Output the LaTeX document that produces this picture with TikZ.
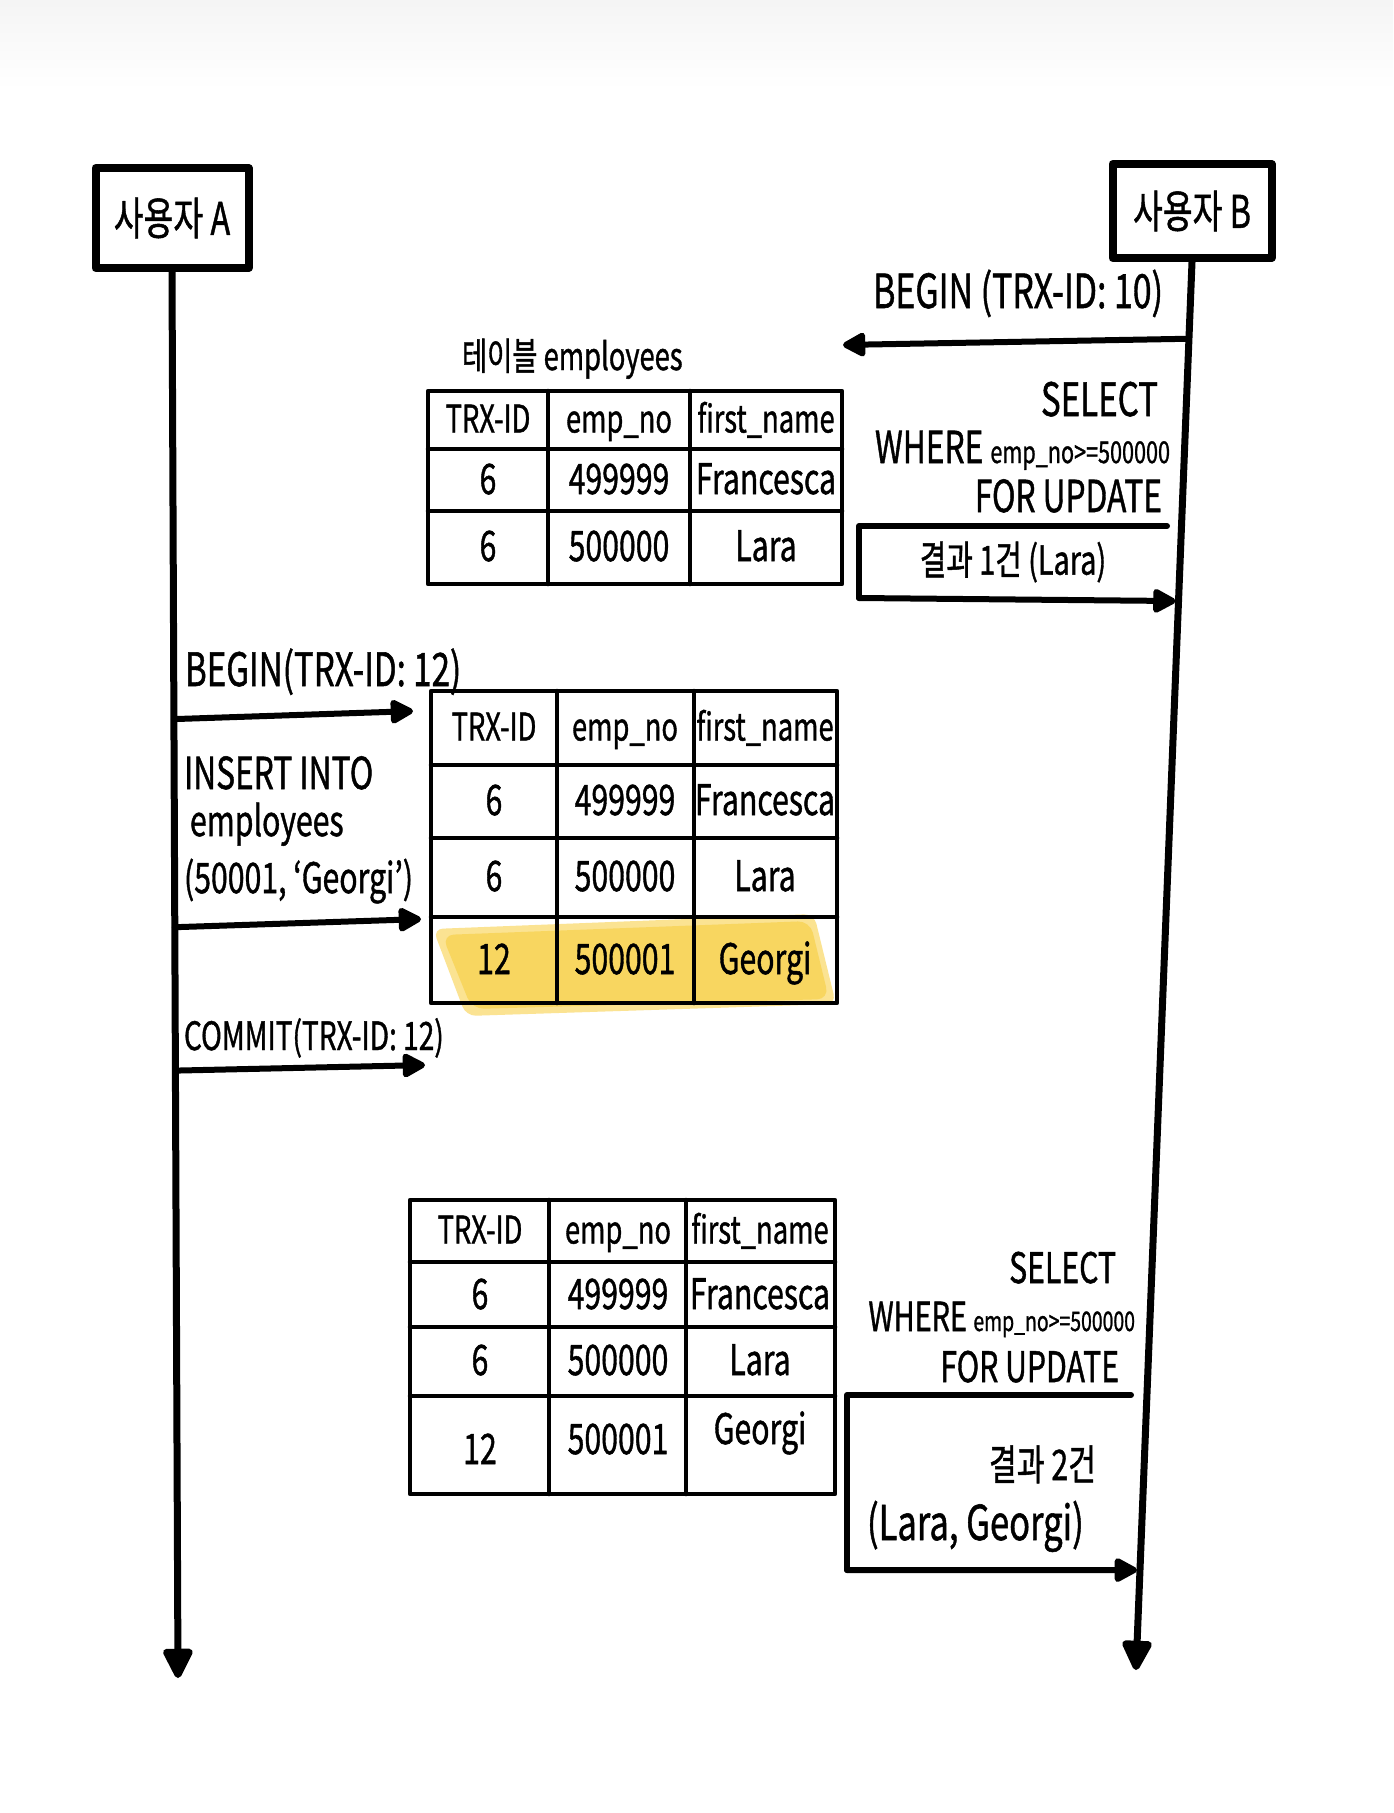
\documentclass[tikz,border=0pt]{standalone}
\usepackage{fontspec}
\usepackage{graphicx}
\setmainfont{Noto Sans CJK KR}[FakeBold=1.2]
\usetikzlibrary{arrows.meta,calc}

% narrow, hand-lettered look: squeeze text horizontally
\newcommand\hw[1]{\scalebox{0.72}[1]{#1}}

\definecolor{marker}{HTML}{F8D660}
\definecolor{markeredge}{HTML}{FBE392}

\tikzset{
  fs/.style={font=\fontsize{#1}{#1}\selectfont},
  txt/.style={inner sep=0pt, outer sep=0pt},
  actor/.style={draw, line width=8pt, line join=round, inner sep=0pt, fs=45},
  life/.style={line width=7pt, line cap=round, -{Triangle[length=34pt,width=32pt,round]}},
  msg/.style={line width=6pt, line cap=round, shorten >=3pt, -{Triangle[length=26pt,width=26pt,round]}},
  frame/.style={line width=6pt, line cap=round, line join=round},
  rule/.style={line width=4.5pt, line cap=round, line join=round},
  cell/.style={txt, fs=42, text height=28pt, text depth=0pt},
  hdr/.style={txt, fs=38, text height=25pt, text depth=0pt},
}

\begin{document}
\begin{tikzpicture}[x=1pt,y=-1pt]
\useasboundingbox (0,0) rectangle (1393,1813);
\fill[white] (0,0) rectangle (1393,1813);
% faint grey haze along the top edge
\shade[top color=black!4, bottom color=white] (0,0) rectangle (1393,90);

% ---------------- actors and lifelines ----------------
\node[actor, minimum width=153pt, minimum height=100pt] (A) at (172,218) {\hw{사용자 A}};
\node[actor, minimum width=159pt, minimum height=94pt] (B) at (1192,211) {\hw{사용자 B}};
\coordinate (Aend) at (178,1678);
\coordinate (Bend) at (1136,1670);
\draw[life] (A.south) -- (Aend);
\draw[life] (B.south) -- (Bend);

% points on the lifelines where messages leave or arrive
\coordinate (a1) at ($(A.south)!0.318!(Aend)$);
\coordinate (a2) at ($(A.south)!0.466!(Aend)$);
\coordinate (a3) at ($(A.south)!0.568!(Aend)$);
\coordinate (b1) at ($(B.south)!0.0545!(Bend)$);
\coordinate (b2) at ($(B.south)!0.2408!(Bend)$);
\coordinate (b3) at ($(B.south)!0.929!(Bend)$);

% ---------------- user B: begin ----------------
\coordinate (t1in) at (840,345);
\draw[msg] (b1) -- (t1in);
\node[txt, fs=47, anchor=base east] (beginB) at (1163,308) {\hw{BEGIN (TRX-ID: 10)}};

% ---------------- table 1 ----------------
\node[txt, fs=38, anchor=base west] (t1label) at (462,370) {\hw{테이블 employees}};
\draw[rule] (428,391) rectangle (842,584);
\draw[rule] (548,391) -- (548,584);
\draw[rule] (690,391) -- (690,584);
\draw[rule] (428,449) -- (842,449);
\draw[rule] (428,511) -- (842,511);
\node[hdr] (t1h1) at (488,420) {\hw{TRX-ID}};
\node[hdr] (t1h2) at (619,420) {\hw{emp\_no}};
\node[hdr] (t1h3) at (766,420) {\hw{first\_name}};
\node[cell] (t1a1) at (488,480) {\hw{6}};
\node[cell] (t1a2) at (619,480) {\hw{499999}};
\node[cell] (t1a3) at (766,480) {\hw{Francesca}};
\node[cell] (t1b1) at (488,547) {\hw{6}};
\node[cell] (t1b2) at (619,547) {\hw{500000}};
\node[cell] (t1b3) at (766,547) {\hw{Lara}};

% ---------------- user B: first locking read ----------------
\node[txt, fs=46, anchor=base east] (sel1a) at (1158,416) {\hw{SELECT}};
\node[txt, anchor=base east] (sel1b) at (1170,463) {\hw{\fontsize{44}{44}\selectfont WHERE \fontsize{30}{30}\selectfont emp\_no>=500000}};
\node[txt, fs=44, anchor=base east] (sel1c) at (1162,512) {\hw{FOR UPDATE}};
\node[txt, fs=40, minimum width=308pt, minimum height=72pt] (r1) at (1013,562) {\hw{결과 1건 (Lara)}};
\draw[frame] (r1.north east) -- (r1.north west) -- (r1.south west);
\draw[msg] (r1.south west) -- (b2);

% ---------------- user A: begin / insert / commit ----------------
\coordinate (t2in1) at (416,711);
\coordinate (t2in2) at (424,919);
\coordinate (t2in3) at (428,1065);
\node[txt, fs=46, anchor=base west] (beginA) at (185,686) {\hw{BEGIN(TRX-ID: 12)}};
\draw[msg] (a1) -- (t2in1);
\node[txt, fs=44, anchor=base west] (ins1) at (184,789) {\hw{INSERT INTO}};
\node[txt, fs=42, anchor=base west] (ins2) at (190,836) {\hw{employees}};
\node[txt, fs=42, anchor=base west] (ins3) at (184,893) {\hw{(50001, `Georgi')}};
\draw[msg] (a2) -- (t2in2);
\node[txt, fs=39, anchor=base west] (commitA) at (184,1050) {\hw{COMMIT(TRX-ID: 12)}};
\draw[msg] (a3) -- (t2in3);

% ---------------- table 2, new row marked ----------------
\fill[markeredge, rounded corners=10pt] (433,929) -- (814,914) -- (836,1004) -- (466,1016) -- cycle;
\fill[marker, rounded corners=12pt] (442,935) -- (810,921) -- (829,999) -- (472,1009) -- cycle;
\draw[rule] (431,691) rectangle (837,1003);
\draw[rule] (557,691) -- (557,1003);
\draw[rule] (694,691) -- (694,1003);
\draw[rule] (431,765) -- (837,765);
\draw[rule] (431,838) -- (837,838);
\draw[rule] (431,917) -- (837,917);
\node[hdr] (t2h1) at (494,728) {\hw{TRX-ID}};
\node[hdr] (t2h2) at (625,728) {\hw{emp\_no}};
\node[hdr] (t2h3) at (765,728) {\hw{first\_name}};
\node[cell] (t2a1) at (494,801) {\hw{6}};
\node[cell] (t2a2) at (625,801) {\hw{499999}};
\node[cell] (t2a3) at (765,801) {\hw{Francesca}};
\node[cell] (t2b1) at (494,877) {\hw{6}};
\node[cell] (t2b2) at (625,877) {\hw{500000}};
\node[cell] (t2b3) at (765,877) {\hw{Lara}};
\node[cell] (t2c1) at (494,960) {\hw{12}};
\node[cell] (t2c2) at (625,960) {\hw{500001}};
\node[cell] (t2c3) at (765,960) {\hw{Georgi}};

% ---------------- table 3 ----------------
\draw[rule] (410,1200) rectangle (835,1494);
\draw[rule] (549,1200) -- (549,1494);
\draw[rule] (686,1200) -- (686,1494);
\draw[rule] (410,1262) -- (835,1262);
\draw[rule] (410,1327) -- (835,1327);
\draw[rule] (410,1396) -- (835,1396);
\node[hdr] (t3h1) at (480,1231) {\hw{TRX-ID}};
\node[hdr] (t3h2) at (618,1231) {\hw{emp\_no}};
\node[hdr] (t3h3) at (760,1231) {\hw{first\_name}};
\node[cell] (t3a1) at (480,1295) {\hw{6}};
\node[cell] (t3a2) at (618,1295) {\hw{499999}};
\node[cell] (t3a3) at (760,1295) {\hw{Francesca}};
\node[cell] (t3b1) at (480,1361) {\hw{6}};
\node[cell] (t3b2) at (618,1361) {\hw{500000}};
\node[cell] (t3b3) at (760,1361) {\hw{Lara}};
\node[cell] (t3c1) at (480,1450) {\hw{12}};
\node[cell] (t3c2) at (618,1440) {\hw{500001}};
\node[cell] (t3c3) at (760,1430) {\hw{Georgi}};

% ---------------- user B: second locking read ----------------
\node[txt, fs=42, anchor=base east] (sel2a) at (1116,1283) {\hw{SELECT}};
\node[txt, anchor=base east] (sel2b) at (1135,1331) {\hw{\fontsize{40}{40}\selectfont WHERE \fontsize{27}{27}\selectfont emp\_no>=500000}};
\node[txt, fs=42, anchor=base east] (sel2c) at (1119,1382) {\hw{FOR UPDATE}};
\node[txt, minimum width=284pt, minimum height=175pt] (r2) at (989,1482.5) {};
\node[txt, fs=42, anchor=base east] (r2a) at (1096,1480) {\hw{결과 2건}};
\node[txt, fs=48, anchor=base west] (r2b) at (867,1540) {\hw{(Lara, Georgi)}};
\draw[frame] (r2.north east) -- (r2.north west) -- (r2.south west);
\draw[msg] (r2.south west) -- (b3);
\end{tikzpicture}
\end{document}
